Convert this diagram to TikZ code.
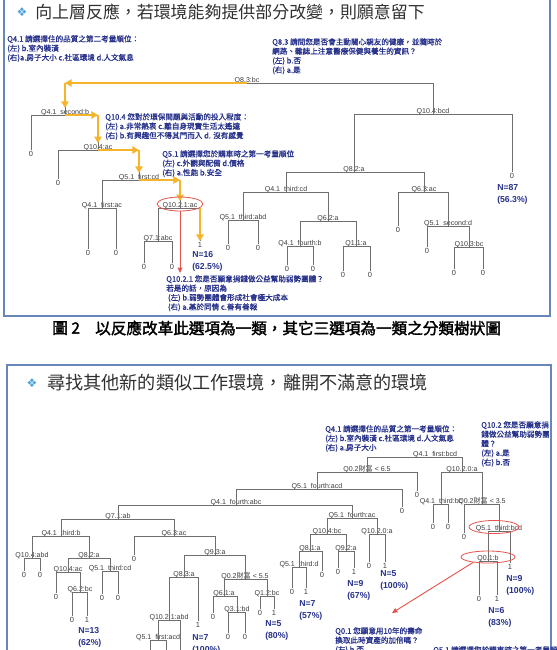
\documentclass[tikz,border=0pt]{standalone}
\usepackage{fontspec}
\setmainfont{Liberation Sans}
\newfontfamily\cjk{Noto Sans CJK TC}
\newfontfamily\cjkbf[FakeBold=2]{Noto Sans CJK TC}
\newfontfamily\cjknote[FakeBold=1.2]{Noto Sans CJK TC}
\newfontfamily\icon{DejaVu Sans}
\usepackage{tikz}
\usetikzlibrary{arrows.meta,shapes.geometric}

\definecolor{navy}{HTML}{27318B}
\definecolor{hlyellow}{HTML}{F5B42A}
\definecolor{panelc}{HTML}{6887B8}
\definecolor{ringred}{HTML}{E5544C}
\definecolor{iconblue}{HTML}{4EA3DA}
\definecolor{treegray}{HTML}{6E6E6E}
\definecolor{labelc}{HTML}{3C3C3C}
\definecolor{headc}{HTML}{303030}

\begin{document}
\begin{tikzpicture}[x=0.75pt, y=-0.75pt,
    panel/.style={draw=panelc, line width=1.2pt},
    treeline/.style={draw=treegray, line width=0.6pt},
    splitlbl/.style={font=\fontsize{5.3}{6}\selectfont, text=labelc, inner sep=0.5pt, anchor=south, text depth=0pt},
    leaf/.style={font=\fontsize{5.6}{6}\selectfont, text=labelc, inner sep=0.8pt},
    note/.style={font=\cjknote\fontsize{5.7}{7}\selectfont, text=navy, align=left, anchor=north west, inner sep=0pt},
    count/.style={font=\bfseries\fontsize{6.5}{9}\selectfont, text=navy, align=left, anchor=north west, inner sep=0pt},
    hl/.style={draw=hlyellow, line width=1.8pt, -{Triangle[length=5pt,width=5.5pt]}},
    ring/.style={draw=ringred, line width=0.6pt, ellipse, inner sep=0pt},
    redarrow/.style={draw=ringred, line width=0.7pt, -{Triangle[length=4pt,width=3.5pt]}},
    heading/.style={font=\cjk\fontsize{12.7}{14}\selectfont, text=headc, anchor=west, inner sep=0pt},
    bullet/.style={font=\icon\fontsize{9}{9}\selectfont, text=iconblue, inner sep=0pt}]
\useasboundingbox (0,0) rectangle (557,650);
\clip (0,0) rectangle (557,650);

% panels
\draw[panel] (4,-5) -- (4,316) -- (550,316) -- (550,-5);
\draw[panel] (7,660) -- (7,365) -- (551,365) -- (551,660);

% headings
\node[bullet] (i1) at (22,12) {❖};
\node[heading] (h1) at (35,12) {向上層反應，若環境能夠提供部分改變，則願意留下};
\node[bullet] (i2) at (32,383) {❖};
\node[heading, font=\cjk\fontsize{13.6}{15}\selectfont] (h2) at (47,383) {尋找其他新的類似工作環境，離開不滿意的環境};
\node[anchor=west, inner sep=0pt, font=\cjkbf\fontsize{11.7}{13}\selectfont] (cap1) at (52,328) {圖 2};
\node[anchor=west, inner sep=0pt, font=\cjkbf\fontsize{11.7}{13}\selectfont] (cap2) at (95,328) {以反應改革此選項為一類，其它三選項為一類之分類樹狀圖};

% upper tree
\node[splitlbl] (t0) at (247,83) {Q8.3:bc};
\node[splitlbl] (t1) at (65,115) {Q4.1\_second:b};
\node[splitlbl] (t2) at (98,150) {Q10.4:ac};
\node[splitlbl] (t3) at (139,180) {Q5.1\_first:cd};
\node[splitlbl] (t4) at (102,208) {Q4.1\_first:ac};
\node[splitlbl] (t5) at (180,208) {Q10.2.1:ac};
\node[splitlbl] (t6) at (158,241) {Q7.1:abc};
\node[splitlbl] (t7) at (433,114) {Q10.4:bcd};
\node[splitlbl] (t8) at (354,172) {Q8.2:a};
\node[splitlbl] (t9) at (286,192) {Q4.1\_third:cd};
\node[splitlbl] (t10) at (243,220) {Q5.1\_third:abd};
\node[splitlbl] (t11) at (328,221) {Q6.2:a};
\node[splitlbl] (t12) at (300,246) {Q4.1\_fourth:b};
\node[splitlbl] (t13) at (356,246) {Q1.1:a};
\node[splitlbl] (t14) at (424,192) {Q6.3:ac};
\node[splitlbl] (t15) at (448,226) {Q5.1\_second:d};
\node[splitlbl] (t16) at (469,247) {Q10.3:bc};

\node[leaf] (u1) at (31,154) {0};
\node[leaf] (u2) at (58,183) {0};
\node[leaf] (u3) at (88,253) {0};
\node[leaf] (u4) at (116,253) {0};
\node[leaf] (u5) at (144,267) {0};
\node[leaf] (u6) at (172,267) {0};
\node[leaf] (u7) at (200,245) {1};
\node[leaf] (u8) at (228,248) {0};
\node[leaf] (u9) at (258,248) {0};
\node[leaf] (u10) at (287,269) {0};
\node[leaf] (u11) at (313,269) {0};
\node[leaf] (u12) at (343,275) {0};
\node[leaf] (u13) at (370,275) {0};
\node[leaf] (u14) at (398,230) {0};
\node[leaf] (u15) at (427,251) {0};
\node[leaf] (u16) at (454,273) {0};
\node[leaf] (u17) at (483,273) {0};
\node[leaf] (u18) at (512,176) {0};

\draw[treeline] (t0.south) -| (t1.south) (t0.south) -| (t7.south);
\draw[treeline] (t1.south) -| (u1.north) (t1.south) -| (t2.south);
\draw[treeline] (t2.south) -| (u2.north) (t2.south) -| (t3.south);
\draw[treeline] (t3.south) -| (t4.south) (t3.south) -| (t5.south);
\draw[treeline] (t4.south) -| (u3.north) (t4.south) -| (u4.north);
\draw[treeline] (t5.south) -| (t6.south) (t5.south) -| (u7.north);
\draw[treeline] (t6.south) -| (u5.north) (t6.south) -| (u6.north);
\draw[treeline] (t7.south) -| (t8.south) (t7.south) -| (u18.north);
\draw[treeline] (t8.south) -| (t9.south) (t8.south) -| (t14.south);
\draw[treeline] (t9.south) -| (t10.south) (t9.south) -| (t11.south);
\draw[treeline] (t10.south) -| (u8.north) (t10.south) -| (u9.north);
\draw[treeline] (t11.south) -| (t12.south) (t11.south) -| (t13.south);
\draw[treeline] (t12.south) -| (u10.north) (t12.south) -| (u11.north);
\draw[treeline] (t13.south) -| (u12.north) (t13.south) -| (u13.north);
\draw[treeline] (t14.south) -| (u14.north) (t14.south) -| (t15.south);
\draw[treeline] (t15.south) -| (u15.north) (t15.south) -| (t16.south);
\draw[treeline] (t16.south) -| (u16.north) (t16.south) -| (u17.north);

% highlighted route
\draw[hl] (t0.south) -- (t0.south -| t1.south);
\draw[hl] (t0.south -| t1.south) -- (t1.north);
\draw[hl] (t1.south) -- (t1.south -| t2.south);
\draw[hl] (t1.south -| t2.south) -- (t2.north);
\draw[hl] (t2.south) -- (t2.south -| t3.south);
\draw[hl] (t2.south -| t3.south) -- (t3.north);
\draw[hl] (t3.south) -- (t3.south -| t5.south);
\draw[hl] (t3.south -| t5.south) -- (t5.north);
\draw[hl] (t5.south -| u7.north) -- (u7.north);

\node[ring, minimum width=34.5pt, minimum height=10.5pt] (e1) at (180,204) {};
\coordinate (r1) at (180,273);
\draw[redarrow] (e1.south) -- (r1);

\node[count] (c1) at (497,184) {N=87\\(56.3\%)};
\node[count] (c2) at (192,251) {N=16\\(62.5\%)};

\node[note] (n1) at (7,35) {Q4.1 請選擇住的品質之第二考量順位：\\(左) b.室內裝潢\\(右)a.房子大小 c.社區環境 d.人文氣息};
\node[note] (n2) at (272,38) {Q8.3 請問您是否會主動關心親友的健康，並隨時於\\網路、雜誌上注意醫療保健與養生的資訊？\\(左) b.否\\(右) a.是};
\node[note] (n3) at (105,113) {Q10.4 您對於環保問題與活動的投入程度：\\(左) a.非常熱衷 c.離自身現實生活太遙遠\\(右) b.有興趣但不得其門而入 d. 沒有感覺};
\node[note] (n4) at (162,150) {Q5.1 請選擇您於購車時之第一考量順位\\(左) c.外觀與配備 d.價格\\(右) a.性能 b.安全};
\node[note] (n5) at (166,275) {Q10.2.1 您是否願意捐錢做公益幫助弱勢團體？\\若是的話，原因為\\\ (左) b.弱勢團體會形成社會極大成本\\\ (右) a.基於同情 c.善有善報};

% lower tree
\node[splitlbl] (b0) at (435,457) {Q4.1\_first:bcd};
\node[splitlbl] (b1) at (367,472) {Q0.2{\cjk 財富} < 6.5};
\node[splitlbl] (b2) at (317,489) {Q5.1\_fourth:acd};
\node[splitlbl] (b3) at (236,505) {Q4.1\_fourth:abc};
\node[splitlbl] (b4) at (118,519) {Q7.1:ab};
\node[splitlbl] (b5) at (61,536) {Q4.1\_third:b};
\node[splitlbl] (b6) at (32,558) {Q10.4:abd};
\node[splitlbl] (b7) at (89,558) {Q8.2:a};
\node[splitlbl] (b8) at (68,572) {Q10.4:ac};
\node[splitlbl] (b9) at (80,592) {Q6.2:bc};
\node[splitlbl] (b10) at (110,571) {Q5.1\_third:cd};
\node[splitlbl] (b11) at (174,536) {Q6.3:ac};
\node[splitlbl] (b12) at (215,555) {Q9.3:a};
\node[splitlbl] (b13) at (184,577) {Q8.3:a};
\node[splitlbl] (b14) at (169,620) {Q10.2.1:abd};
\node[splitlbl] (b15) at (158,640) {Q5.1\_first:acd};
\node[splitlbl] (b16) at (245,579) {Q0.2{\cjk 財富} < 5.5};
\node[splitlbl] (b17) at (224,596) {Q6.1:a};
\node[splitlbl] (b18) at (237,612) {Q3.1:bd};
\node[splitlbl] (b19) at (267,596) {Q1.2:bc};
\node[splitlbl] (b20) at (352,518) {Q5.1\_fourth:ac};
\node[splitlbl] (b21) at (327,534) {Q10.4:bc};
\node[splitlbl] (b22) at (310,551) {Q8.1:a};
\node[splitlbl] (b23) at (299,567) {Q5.1\_third:d};
\node[splitlbl] (b24) at (346,551) {Q9.2:a};
\node[splitlbl] (b25) at (377,534) {Q10.2.0:a};
\node[splitlbl] (b26) at (462,472) {Q10.2.0:a};
\node[splitlbl] (b27) at (441,504) {Q4.1\_third:bc};
\node[splitlbl] (b28) at (482,504) {Q0.2{\cjk 財富} < 3.5};
\node[splitlbl] (b29) at (499,531) {Q5.1\_third:bcd};
\node[splitlbl] (b30) at (488,561) {Q0.1:b};

\node[leaf] (w1) at (24,575) {0};
\node[leaf] (w2) at (40,575) {0};
\node[leaf] (w3) at (56,597) {0};
\node[leaf] (w4) at (72,620) {0};
\node[leaf] (w5) at (87,620) {1};
\node[leaf] (w6) at (102,598) {0};
\node[leaf] (w7) at (118,598) {0};
\node[leaf] (w8) at (134,559) {0};
\node[leaf] (w9) at (198,625) {1};
\node[leaf] (w10) at (213,617) {0};
\node[leaf] (w11) at (228,637) {0};
\node[leaf] (w12) at (245,637) {0};
\node[leaf] (w13) at (260,613) {0};
\node[leaf] (w14) at (274,613) {1};
\node[leaf] (w15) at (292,592) {0};
\node[leaf] (w16) at (306,592) {1};
\node[leaf] (w17) at (322,575) {0};
\node[leaf] (w18) at (338,572) {0};
\node[leaf] (w19) at (354,572) {1};
\node[leaf] (w20) at (369,566) {0};
\node[leaf] (w21) at (385,566) {1};
\node[leaf] (w22) at (402,511) {0};
\node[leaf] (w23) at (417,495) {0};
\node[leaf] (w24) at (433,527) {0};
\node[leaf] (w25) at (448,527) {0};
\node[leaf] (w26) at (464,537) {0};
\node[leaf] (w27) at (479,599) {0};
\node[leaf] (w28) at (497,599) {1};
\node[leaf] (w29) at (510,567) {1};
\coordinate (v1) at (180,668);
\coordinate (v2) at (150,668);
\coordinate (v3) at (166,668);

\draw[treeline] (b0.south) -| (b1.south) (b0.south) -| (b26.south);
\draw[treeline] (b1.south) -| (b2.south) (b1.south) -| (w23.north);
\draw[treeline] (b2.south) -| (b3.south) (b2.south) -| (w22.north);
\draw[treeline] (b3.south) -| (b4.south) (b3.south) -| (b20.south);
\draw[treeline] (b4.south) -| (b5.south) (b4.south) -| (b11.south);
\draw[treeline] (b5.south) -| (b6.south) (b5.south) -| (b7.south);
\draw[treeline] (b6.south) -| (w1.north) (b6.south) -| (w2.north);
\draw[treeline] (b7.south) -| (b8.south) (b7.south) -| (b10.south);
\draw[treeline] (b8.south) -| (w3.north) (b8.south) -| (b9.south);
\draw[treeline] (b9.south) -| (w4.north) (b9.south) -| (w5.north);
\draw[treeline] (b10.south) -| (w6.north) (b10.south) -| (w7.north);
\draw[treeline] (b11.south) -| (w8.north) (b11.south) -| (b12.south);
\draw[treeline] (b12.south) -| (b13.south) (b12.south) -| (b16.south);
\draw[treeline] (b13.south) -| (b14.south) (b13.south) -| (w9.north);
\draw[treeline] (b14.south) -| (b15.south) (b14.south) -| (v1);
\draw[treeline] (b15.south) -| (v2) (b15.south) -| (v3);
\draw[treeline] (b16.south) -| (b17.south) (b16.south) -| (b19.south);
\draw[treeline] (b17.south) -| (w10.north) (b17.south) -| (b18.south);
\draw[treeline] (b18.south) -| (w11.north) (b18.south) -| (w12.north);
\draw[treeline] (b19.south) -| (w13.north) (b19.south) -| (w14.north);
\draw[treeline] (b20.south) -| (b21.south) (b20.south) -| (b25.south);
\draw[treeline] (b21.south) -| (b22.south) (b21.south) -| (b24.south);
\draw[treeline] (b22.south) -| (b23.south) (b22.south) -| (w17.north);
\draw[treeline] (b23.south) -| (w15.north) (b23.south) -| (w16.north);
\draw[treeline] (b24.south) -| (w18.north) (b24.south) -| (w19.north);
\draw[treeline] (b25.south) -| (w20.north) (b25.south) -| (w21.north);
\draw[treeline] (b26.south) -| (b27.south) (b26.south) -| (b28.south);
\draw[treeline] (b27.south) -| (w24.north) (b27.south) -| (w25.north);
\draw[treeline] (b28.south) -| (w26.north) (b28.south) -| (b29.south);
\draw[treeline] (b29.south) -| (b30.south) (b29.south) -| (w29.north);
\draw[treeline] (b30.south) -| (w27.north) (b30.south) -| (w28.north);

\node[ring, minimum width=37.5pt, minimum height=9.8pt] (e2) at (494,527) {};
\node[ring, minimum width=40.5pt, minimum height=9pt] (e3) at (488,557) {};
\coordinate (r2) at (392,613);
\draw[redarrow] (e3.200) -- (r2);

\node[count] (c3) at (78,627) {N=13\\(62\%)};
\node[count] (c4) at (192,634) {N=7\\(100\%)};
\node[count] (c5) at (265,620) {N=5\\(80\%)};
\node[count] (c6) at (299,600) {N=7\\(57\%)};
\node[count] (c7) at (347,580) {N=9\\(67\%)};
\node[count] (c8) at (380,570) {N=5\\(100\%)};
\node[count] (c9) at (506,575) {N=9\\(100\%)};
\node[count] (c10) at (488,607) {N=6\\(83\%)};

\node[note] (n6) at (325,425) {Q4.1 請選擇住的品質之第一考量順位：\\(左) b.室內裝潢 c.社區環境 d.人文氣息\\(右) a.房子大小};
\node[note] (n7) at (481,421) {Q10.2 您是否願意捐\\錢做公益幫助弱勢團\\體？\\(左) a.是\\(右) b.否};
\node[note] (n8) at (335,627) {Q0.1 您願意用10年的壽命\\換取此時資產的加倍嗎？\\(左) b.否};
\node[note] (n9) at (433,646) {Q5.1 請選擇您於購車時之第一考量順位};
\end{tikzpicture}
\end{document}
